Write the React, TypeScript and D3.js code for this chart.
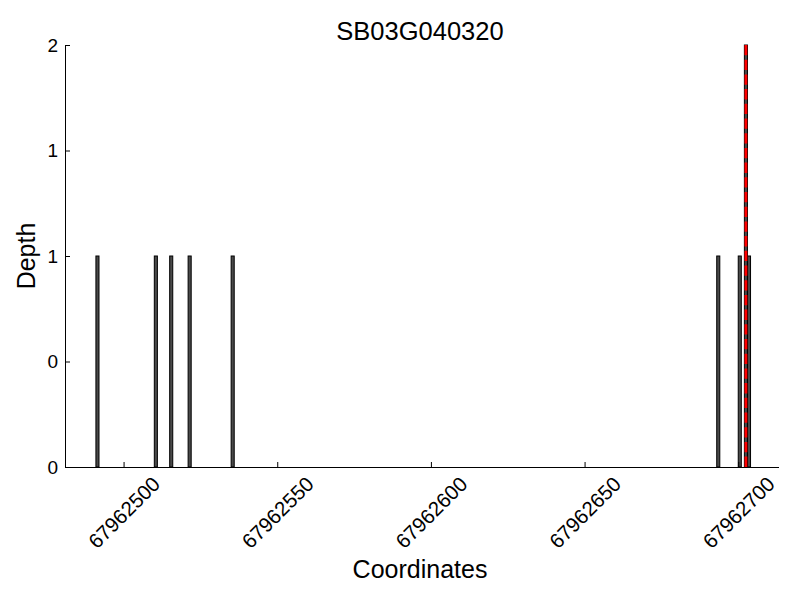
import React, { useEffect, useRef } from "react";
import * as d3 from "d3";

const title = "SB03G040320";
const coordinates = [67962491, 67962510, 67962515, 67962521, 67962535, 67962693, 67962700, 67962702, 67962703];
const depths = [1, 1, 1, 1, 1, 1, 1, 2, 1];
const markerCoord = 67962702.5;
const xTicks = [67962500, 67962550, 67962600, 67962650, 67962700];
const yTicks = [0, 0.5, 1, 1.5, 2];
const xDomain = [67962480.94, 67962713.1];
const yDomain = [0, 2];

export default function App() {
  const ref = useRef<SVGSVGElement>(null);
  useEffect(() => {
    const svg = d3.select(ref.current);
    svg.selectAll("*").remove();
    const left = 65, right = 778.5, top = 45, bottom = 467;
    const font = "'Liberation Sans', Arial, sans-serif";
    const x = d3.scaleLinear().domain(xDomain).range([left, right]);
    const y = d3.scaleLinear().domain(yDomain).range([bottom, top]);

    svg.append("rect").attr("width", 800).attr("height", 600).attr("fill", "#fff");

    // bars
    const data = coordinates.map((c, i) => ({ c, d: depths[i] }));
    svg.append("g").selectAll("rect").data(data).enter().append("rect")
      .attr("x", (d) => x(d.c))
      .attr("width", (d) => x(d.c + 1) - x(d.c))
      .attr("y", (d) => y(d.d))
      .attr("height", (d) => y(0) - y(d.d))
      .attr("fill", "#4a4a4a")
      .attr("stroke", "#000")
      .attr("stroke-width", 1);

    // marker line
    svg.append("line")
      .attr("x1", x(markerCoord)).attr("x2", x(markerCoord))
      .attr("y1", y(2)).attr("y2", y(0))
      .attr("stroke", "#ff0000").attr("stroke-width", 2.8)
      .attr("stroke-dasharray", "10.3,4.4");

    // x axis
    const xAxis = d3.axisBottom(x).tickValues(xTicks).tickSizeInner(-5).tickSizeOuter(0).tickFormat(d3.format("d"));
    const gx = svg.append("g").attr("transform", `translate(0,${bottom})`).call(xAxis);
    gx.select(".domain").attr("stroke", "#000");
    gx.selectAll(".tick line").attr("stroke", "#000");
    gx.selectAll(".tick text")
      .attr("font-family", font).attr("font-size", 20.5).attr("fill", "#000")
      .attr("text-anchor", "middle")
      .attr("dy", "0.35em")
      .attr("transform", "translate(0,45.5) rotate(-45)")
      .attr("y", 0).attr("x", 0);

    // y axis
    const yAxis = d3.axisLeft(y).tickValues(yTicks).tickSizeInner(-5).tickSizeOuter(0)
      .tickFormat((d: any) => String(Math.floor(d)));
    const gy = svg.append("g").attr("transform", `translate(${left},0)`).call(yAxis);
    gy.select(".domain").attr("stroke", "#000");
    gy.selectAll(".tick line").attr("stroke", "#000");
    gy.selectAll(".tick text")
      .attr("font-family", font).attr("font-size", 19).attr("fill", "#000")
      .attr("x", -7);

    svg.append("text").attr("x", 420).attr("y", 40)
      .attr("text-anchor", "middle").attr("font-family", font).attr("font-size", 25.5)
      .attr("fill", "#000").text(title);
    svg.append("text").attr("x", 420).attr("y", 578)
      .attr("text-anchor", "middle").attr("font-family", font).attr("font-size", 25)
      .attr("fill", "#000").text("Coordinates");
    svg.append("text").attr("transform", `translate(35,${(top + bottom) / 2}) rotate(-90)`)
      .attr("text-anchor", "middle").attr("font-family", font).attr("font-size", 25)
      .attr("fill", "#000").text("Depth");
  }, []);
  return (
    <svg ref={ref} width={800} height={600} style={{ position: "absolute", left: 0, top: 0 }} />
  );
}
